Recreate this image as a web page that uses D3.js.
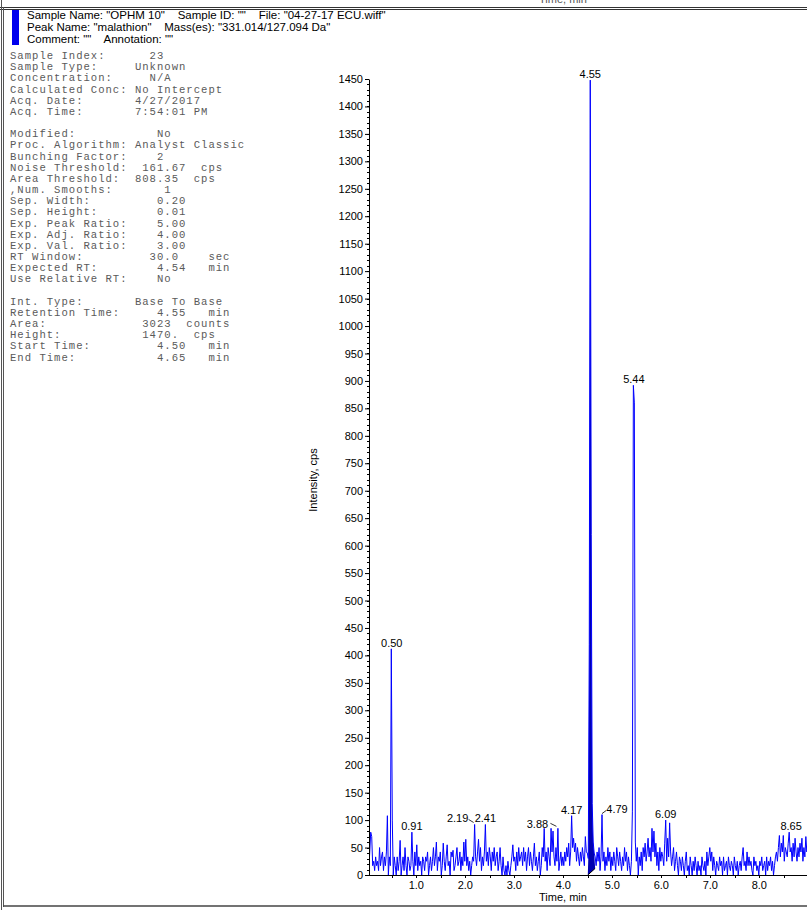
<!DOCTYPE html>
<html><head><meta charset="utf-8">
<script src="https://cdn.jsdelivr.net/npm/d3@7"></script>
<style>
html,body{margin:0;padding:0;background:#fff;}
svg{display:block;}
.mono{font-family:"Courier New","Liberation Mono",monospace;font-size:10.6px;letter-spacing:0.99px;fill:#5a5a5a;white-space:pre;}
.sans{font-family:Arial,"Liberation Sans",Helvetica,sans-serif;}
</style></head>
<body>
<svg id="c" width="807" height="910"></svg>
<script>
// ---- data ----
const headerLines = [
  'Sample Name: "OPHM 10"    Sample ID: ""    File: "04-27-17 ECU.wiff"',
  'Peak Name: "malathion"    Mass(es): "331.014/127.094 Da"',
  'Comment: ""    Annotation: ""'
];
const infoLines = [
  'Sample Index:      23',
  'Sample Type:     Unknown',
  'Concentration:     N/A',
  'Calculated Conc: No Intercept',
  'Acq. Date:       4/27/2017',
  'Acq. Time:       7:54:01 PM',
  '',
  'Modified:           No',
  'Proc. Algorithm: Analyst Classic',
  'Bunching Factor:    2',
  'Noise Threshold:  161.67  cps',
  'Area Threshold:  808.35  cps',
  ',Num. Smooths:       1',
  'Sep. Width:         0.20',
  'Sep. Height:        0.01',
  'Exp. Peak Ratio:    5.00',
  'Exp. Adj. Ratio:    4.00',
  'Exp. Val. Ratio:    3.00',
  'RT Window:         30.0    sec',
  'Expected RT:        4.54   min',
  'Use Relative RT:    No',
  '',
  'Int. Type:       Base To Base',
  'Retention Time:     4.55   min',
  'Area:             3023  counts',
  'Height:           1470.  cps',
  'Start Time:         4.50   min',
  'End Time:           4.65   min'
];
// sampling grid of the chromatogram (min)
const timeStart = 0.01, timeStep = 0.02;
// intensity (cps) per sample
const intensity = [
  65, 8, 42, 78, 70, 17, 25, 8, 33, 17,
  25, 8, 50, 17, 33, 42, 8, 33, 17, 42,
  108, 0, 33, 17, 412, 100, 0, 33, 17, 0,
  33, 8, 25, 63, 0, 17, 33, 8, 50, 17,
  0, 33, 25, 8, 17, 78, 25, 0, 42, 17,
  55, 8, 33, 17, 25, 0, 33, 25, 8, 33,
  25, 42, 0, 17, 33, 8, 25, 50, 17, 33,
  60, 8, 33, 25, 42, 0, 17, 58, 25, 8,
  33, 55, 17, 25, 0, 42, 33, 45, 8, 17,
  33, 50, 17, 25, 42, 8, 33, 17, 60, 25,
  65, 17, 33, 8, 25, 0, 17, 33, 25, 92,
  33, 17, 42, 65, 25, 50, 8, 33, 17, 42,
  92, 25, 42, 17, 50, 33, 8, 42, 25, 50,
  17, 33, 42, 8, 25, 50, 17, 0, 33, 8,
  0, 17, 0, 25, 8, 0, 17, 33, 55, 25,
  33, 8, 42, 17, 50, 25, 33, 42, 17, 50,
  25, 42, 8, 33, 50, 17, 42, 25, 8, 33,
  58, 17, 33, 8, 25, 42, 0, 17, 50, 33,
  85, 25, 42, 8, 50, 33, 17, 85, 42, 80,
  33, 17, 50, 25, 85, 8, 25, 42, 17, 33,
  17, 42, 25, 50, 33, 58, 17, 42, 108, 50,
  67, 42, 58, 25, 50, 33, 17, 42, 25, 50,
  33, 17, 70, 42, 40, 30, 420, 1448, 620, 130,
  60, 40, 33, 17, 42, 25, 50, 8, 33, 110,
  25, 42, 8, 33, 17, 50, 25, 42, 8, 33,
  17, 42, 25, 8, 50, 33, 17, 42, 25, 8,
  33, 17, 50, 25, 42, 8, 33, 17, 0, 25,
  115, 892, 860, 60, 25, 50, 0, 33, 17, 42,
  8, 50, 33, 58, 25, 42, 67, 33, 50, 25,
  85, 42, 80, 33, 58, 17, 42, 8, 50, 25,
  42, 33, 17, 58, 100, 25, 67, 33, 95, 42,
  17, 33, 50, 8, 25, 42, 17, 0, 33, 25,
  8, 33, 17, 0, 25, 42, 8, 17, 0, 33,
  17, 0, 25, 8, 33, 17, 0, 25, 8, 17,
  0, 33, 17, 8, 25, 0, 42, 17, 33, 50,
  25, 42, 8, 33, 17, 0, 25, 17, 8, 33,
  17, 25, 0, 33, 8, 17, 25, 0, 33, 17,
  8, 25, 17, 0, 33, 17, 8, 25, 0, 17,
  25, 8, 33, 50, 17, 25, 8, 42, 17, 33,
  17, 25, 8, 0, 33, 17, 25, 8, 17, 0,
  25, 17, 33, 8, 17, 25, 0, 33, 8, 25,
  17, 33, 8, 25, 0, 17, 33, 42, 25, 50,
  72, 33, 58, 42, 72, 25, 50, 42, 33, 58,
  78, 42, 50, 25, 58, 33, 67, 42, 25, 50,
  33, 58, 42, 67, 25, 50, 33, 70, 42, 58
];
// labelled peaks: retention time, apex height, label
const peakRT = [0.50, 0.91, 2.19, 2.41, 3.88, 4.17, 4.55, 4.79, 5.44, 6.09, 8.65];
const peakHeight = [412, 78, 92, 92, 85, 108, 1448, 110, 892, 100, 78];
const peakLabel = ["0.50","0.91","2.19","2.41","3.88","4.17","4.55","4.79","5.44","6.09","8.65"];
// integrated peak
const intStart = 4.50, intEnd = 4.65, intBaseStart = 0, intBaseEnd = 12;
const yTicks = [0,50,100,150,200,250,300,350,400,450,500,550,600,650,700,750,800,850,900,950,1000,1050,1100,1150,1200,1250,1300,1350,1400,1450];
const xTickLabels = [1,2,3,4,5,6,7,8];

// ---- drawing ----
const svg = d3.select("#c");
const series = intensity.map((v,i)=>({t: +(timeStart + i*timeStep).toFixed(2), v}));

// frame
svg.append("text").attr("class","sans").attr("x",563).attr("y",3).attr("text-anchor","middle")
  .attr("font-size",11).attr("fill","#555").text("Time, min");
svg.append("line").attr("x1",0).attr("x2",807).attr("y1",7.5).attr("y2",7.5).attr("stroke","#333").attr("stroke-width",1);
svg.append("line").attr("x1",0).attr("x2",807).attr("y1",9.5).attr("y2",9.5).attr("stroke","#333").attr("stroke-width",1);
svg.append("line").attr("x1",1.5).attr("x2",1.5).attr("y1",0).attr("y2",910).attr("stroke","#555").attr("stroke-width",1);
svg.append("line").attr("x1",3.5).attr("x2",3.5).attr("y1",7).attr("y2",907).attr("stroke","#555").attr("stroke-width",1);
svg.append("line").attr("x1",3).attr("x2",807).attr("y1",906).attr("y2",906).attr("stroke","#444").attr("stroke-width",1.5);

// header
svg.append("rect").attr("x",12).attr("y",10).attr("width",7).attr("height",35).attr("fill","#0000ee");
headerLines.forEach((s,i)=>{
  svg.append("text").attr("class","sans").attr("x",27).attr("y",19+i*12.2)
    .attr("font-size",11.5).attr("fill","#000").style("white-space","pre").text(s);
});
infoLines.forEach((s,i)=>{
  if(!s) return;
  svg.append("text").attr("class","mono").attr("x",10).attr("y",59+i*11.17).text(s);
});

// scales
const x = d3.scaleLinear().domain([0,9]).range([367.3,808.3]);
const y = d3.scaleLinear().domain([0,1450]).range([875,79]);

// clip
svg.append("clipPath").attr("id","clip").append("rect").attr("x",369).attr("y",60).attr("width",440).attr("height",816);
const plot = svg.append("g").attr("clip-path","url(#clip)");

// integrated area
const baseAt = t => intBaseStart + (intBaseEnd-intBaseStart)*(t-intStart)/(intEnd-intStart);
const areaData = [{t:intStart, v:intBaseStart}]
  .concat(series.filter(d=>d.t>intStart && d.t<intEnd))
  .concat([{t:intEnd, v:intBaseEnd}]);
plot.append("path").datum(areaData)
  .attr("d", d3.area().x(d=>x(d.t)).y0(d=>y(baseAt(d.t))).y1(d=>y(Math.max(d.v, baseAt(d.t)))))
  .attr("fill","#0000b0");

// line
plot.append("path").datum(series)
  .attr("d", d3.line().x(d=>x(d.t)).y(d=>y(d.v)))
  .attr("fill","none").attr("stroke","#0000ff").attr("stroke-width",1);

// baseline of integration
plot.append("line").attr("x1",x(intStart)).attr("y1",y(intBaseStart)).attr("x2",x(intEnd)).attr("y2",y(intBaseEnd))
  .attr("stroke","#000").attr("stroke-width",1);

// y axis
const yMinor = d3.range(0,1451,10);
const yAxisG = svg.append("g").attr("transform","translate(369,0)");
yAxisG.selectAll("line.minor").data(yMinor).enter().append("line")
  .attr("x1",-2).attr("x2",0).attr("y1",d=>Math.round(y(d))+0.5).attr("y2",d=>Math.round(y(d))+0.5)
  .attr("stroke","#000");
yAxisG.call(d3.axisLeft(y).tickValues(yTicks).tickFormat(d3.format("d")).tickSize(4).tickPadding(2).tickSizeOuter(0))
  .call(g=>g.selectAll("text").attr("font-family","Arial, 'Liberation Sans', sans-serif").attr("font-size",11).attr("fill","#000"))
  .call(g=>g.select(".domain").attr("stroke","#000"));

// x axis
const xAxisG = svg.append("g").attr("transform","translate(0,875)");
xAxisG.append("line").attr("x1",369).attr("x2",807).attr("y1",0.5).attr("y2",0.5).attr("stroke","#000");
xAxisG.selectAll("line.tk").data(d3.range(0.5,9,0.5)).enter().append("line")
  .attr("x1",d=>Math.round(x(d))+0.5).attr("x2",d=>Math.round(x(d))+0.5).attr("y1",0).attr("y2",3).attr("stroke","#000");
xAxisG.selectAll("text").data(xTickLabels).enter().append("text")
  .attr("x",d=>x(d)).attr("y",13.5).attr("text-anchor","middle")
  .attr("font-family","Arial, 'Liberation Sans', sans-serif").attr("font-size",11).attr("fill","#000")
  .text(d=>d.toFixed(1));
svg.append("text").attr("class","sans").attr("x",563).attr("y",901).attr("text-anchor","middle")
  .attr("font-size",11).attr("fill","#000").text("Time, min");
svg.append("text").attr("class","sans").attr("transform","translate(317,480) rotate(-90)")
  .attr("text-anchor","middle").attr("font-size",11).attr("fill","#000").text("Intensity, cps");

// peak labels
const labelDx = {"2.19":-17, "2.41":0, "3.88":-20, "4.79":15};
const labelDy = {"3.88":2};
peakRT.forEach((rt,i)=>{
  const lab = peakLabel[i];
  const lx = x(rt) + (labelDx[lab]||0);
  const ly = y(peakHeight[i]) - 2 + (labelDy[lab]||0);
  svg.append("text").attr("class","sans").attr("x",lx).attr("y",ly).attr("text-anchor","middle")
    .attr("font-size",11).attr("fill","#000").text(lab);
});
// label connectors
svg.append("path").attr("d",`M${x(2.19)-6},${y(92)-5} l5,3`).attr("fill","none").attr("stroke","#000").attr("stroke-width",0.8);
svg.append("path").attr("d",`M${x(3.88)-7},${y(85)-5} l6,3`).attr("fill","none").attr("stroke","#000").attr("stroke-width",0.8);
svg.append("path").attr("d",`M${x(4.79)},${y(110)-1} l4,-3`).attr("fill","none").attr("stroke","#000").attr("stroke-width",0.8);
</script>
</body></html>
